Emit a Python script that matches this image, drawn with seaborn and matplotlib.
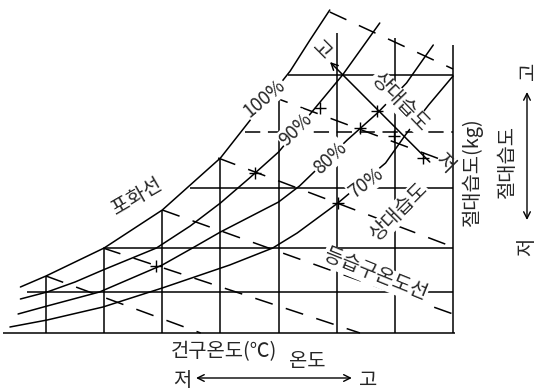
import matplotlib
matplotlib.use("Agg")
import matplotlib.pyplot as plt
import pandas as pd
import seaborn as sns

# Relative humidity curves: dry-bulb temperature (°C) -> absolute humidity
rh_names = ["100%", "90%", "80%", "70%"]
rh100_t = [-2.2, 0.0, 5.0, 10.0, 15.0, 17.5, 19.3, 21.0, 22.7, 24.4]
rh100_w = [4.6, 5.7, 8.5, 12.3, 17.5, 21.2, 23.7, 26.2, 29.3, 32.3]
rh90_t = [-2.2, 0.1, 2.5, 4.9, 7.2, 9.5, 12.4, 15.0, 17.5, 20.0, 21.8, 23.0, 25.5, 28.7]
rh90_w = [3.4, 4.1, 5.1, 6.3, 7.4, 8.5, 10.7, 13.0, 15.5, 18.1, 20.6, 22.3, 25.8, 31.0]
rh80_t = [-2.4, 0.1, 4.6, 10.0, 12.6, 15.0, 20.0, 21.8, 25.9, 28.5, 31.0, 33.3]
rh80_w = [1.9, 2.7, 4.1, 6.8, 8.5, 10.1, 13.1, 14.7, 19.3, 22.0, 25.0, 28.8]
rh70_t = [-3.1, 0.1, 4.9, 10.0, 15.8, 19.5, 21.6, 25.1, 29.2, 30.9, 32.9, 35.0]
rh70_w = [0.6, 1.3, 2.6, 4.5, 6.8, 8.5, 10.0, 13.0, 17.0, 19.8, 22.8, 25.7]

# Curve labels placed on the curves: (temperature, humidity, angle)
rh_label_t = [18.8, 21.5, 24.4, 27.5]
rh_label_w = [23.5, 20.3, 17.5, 15.0]
rh_label_rot = [40, 45, 43, 37]

# Dry-bulb lines (vertical) and where each one ends at the top
db_t = [0, 5, 10, 15, 20, 25, 30, 35]
db_top = [5.7, 8.5, 12.3, 17.5, 23.3, 30.0, 29.5, 28.8]

# Absolute humidity lines (horizontal), starting at the saturation curve
ah_w = [0.0, 4.1, 8.5, 14.5, 20.1, 25.8]
ah_start = [-3.7, -1.6, 5.0, 12.4, 17.1, 20.8]
ah_end = [35.2, 35.0, 35.0, 35.0, 35.0, 35.0]
ah_dashed = [False, False, False, False, True, False]

# Wet-bulb (dashed) lines: start and end points
wb_t0 = [0.0, 4.9, 10.0, 14.8, 19.3, 24.4]
wb_w0 = [5.7, 8.5, 12.3, 17.5, 23.7, 32.1]
wb_t1 = [13.3, 27.0, 35.0, 35.0, 35.0, 35.0]
wb_w1 = [0.0, 0.0, 1.9, 8.6, 16.9, 26.4]

# Small cross ticks where lines meet
tick_t = [9.5, 18.0, 23.6, 25.1, 27.0, 28.5, 29.9, 32.4]
tick_w = [6.7, 16.0, 22.5, 13.0, 20.5, 22.2, 19.7, 17.5]

sns.set_theme(style="white")
plt.rcParams["font.family"] = ["Noto Sans CJK KR", "DejaVu Sans"]

fig = plt.figure(figsize=(5.37, 3.90), dpi=100)
ax = fig.add_axes([0, 0, 1, 1])
ax.set_xlim(-3.955, 42.22)
ax.set_ylim(-5.7, 33.3)
ax.axis("off")

ink = "black"
lw = 1.1

# Relative humidity curves
curves = pd.concat([
    pd.DataFrame({"t": rh100_t, "w": rh100_w, "rh": "100%"}),
    pd.DataFrame({"t": rh90_t, "w": rh90_w, "rh": "90%"}),
    pd.DataFrame({"t": rh80_t, "w": rh80_w, "rh": "80%"}),
    pd.DataFrame({"t": rh70_t, "w": rh70_w, "rh": "70%"}),
], ignore_index=True)
sns.lineplot(data=curves, x="t", y="w", units="rh", estimator=None, sort=False,
             color=ink, lw=lw, legend=False, ax=ax)

# Wet-bulb lines
wb = pd.concat([
    pd.DataFrame({"t": [a, b], "w": [c, d], "k": i})
    for i, (a, b, c, d) in enumerate(zip(wb_t0, wb_t1, wb_w0, wb_w1))
], ignore_index=True)
sns.lineplot(data=wb, x="t", y="w", units="k", estimator=None, sort=False,
             color=ink, lw=lw, legend=False, ax=ax, linestyle=(0, (12, 9)))

# Grid
ax.vlines(db_t, 0, db_top, color=ink, lw=lw)
for w, s, e, d in zip(ah_w, ah_start, ah_end, ah_dashed):
    ax.hlines(w, s, e, color=ink, lw=lw, linestyle=(0, (10, 5)) if d else "-")

ax.plot(tick_t, tick_w, ls="none", marker="+", ms=9, mew=1.0, color=ink)

box = dict(facecolor="white", edgecolor="none", pad=0.6)
fs = 13.5
fk = 14.3
for name, t, w, r in zip(rh_names, rh_label_t, rh_label_w, rh_label_rot):
    ax.text(t, w, name, rotation=r, ha="center", va="center", fontsize=fs,
            bbox=box, rotation_mode="anchor")

ax.text(7.8, 13.6, "포화선", rotation=30, ha="center", va="center", fontsize=fk,
        rotation_mode="anchor")
ax.text(30.4, 23.1, "상대습도", rotation=-46, ha="center", va="center", fontsize=fk,
        bbox=box, rotation_mode="anchor")
ax.text(30.3, 12.1, "상대습도", rotation=45, ha="center", va="center", fontsize=fk,
        bbox=box, rotation_mode="anchor")
ax.text(28.3, 5.8, "등습구온도선", rotation=-22, ha="center", va="center", fontsize=fk,
        bbox=box, rotation_mode="anchor")

# Relative humidity direction arrow
ax.annotate("", xy=(24.42, 27.1), xytext=(33.0, 17.1),
            arrowprops=dict(arrowstyle="->", lw=lw, color=ink, mutation_scale=12,
                            shrinkA=0, shrinkB=0))
ax.text(23.7, 28.3, "고", rotation=-45, ha="center", va="center", fontsize=fk)
ax.text(34.3, 17.0, "저", rotation=-45, ha="center", va="center", fontsize=fk)

# Absolute humidity axis captions
ax.text(36.7, 16.1, "절대습도(kg)", rotation=90, ha="center", va="center", fontsize=fk)
ax.text(39.7, 17.2, "절대습도", rotation=90, ha="center", va="center", fontsize=fk)
ax.annotate("", xy=(41.36, 24.1), xytext=(41.36, 11.3),
            arrowprops=dict(arrowstyle="<->", lw=1.0, color=ink, mutation_scale=12,
                            shrinkA=0, shrinkB=0))
ax.text(41.45, 26.2, "고", rotation=90, ha="center", va="center", fontsize=fk)
ax.text(41.36, 8.6, "저", rotation=90, ha="center", va="center", fontsize=fk)

# Dry-bulb temperature captions
ax.text(15.3, -1.9, "건구온도(℃)", ha="center", va="center", fontsize=fk)
ax.annotate("", xy=(26.3, -4.5), xytext=(12.9, -4.5),
            arrowprops=dict(arrowstyle="<->", lw=1.0, color=ink, mutation_scale=12,
                            shrinkA=0, shrinkB=0))
ax.text(11.7, -4.7, "저", ha="center", va="center", fontsize=fk)
ax.text(22.5, -2.9, "온도", ha="center", va="center", fontsize=fk)
ax.text(27.7, -4.7, "고", ha="center", va="center", fontsize=fk)

fig.savefig("out.png", dpi=100, facecolor="white")
